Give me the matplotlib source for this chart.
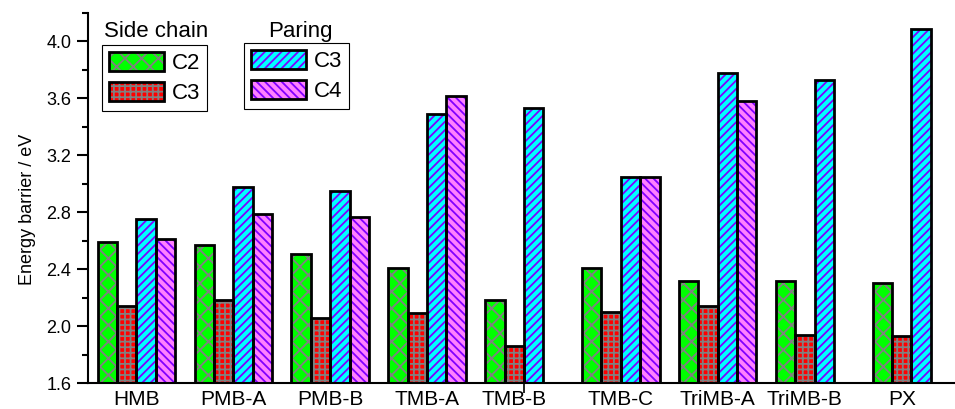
import numpy as np
import matplotlib
matplotlib.use("Agg")
import matplotlib.pyplot as plt
from matplotlib.patches import Patch

plt.rcParams['font.family'] = ['Liberation Sans', 'DejaVu Sans']
plt.rcParams['hatch.linewidth'] = 1.3

categories = ["HMB", "PMB-A", "PMB-B", "TMB-A", "TMB-B", "TMB-C", "TriMB-A", "TriMB-B", "PX"]
side_c2 = [2.59, 2.57, 2.51, 2.41, 2.18, 2.41, 2.32, 2.32, 2.30]
side_c3 = [2.14, 2.18, 2.06, 2.09, 1.86, 2.10, 2.14, 1.94, 1.93]
paring_c3 = [2.75, 2.98, 2.95, 3.49, 3.53, 3.05, 3.78, 3.73, 4.09]
paring_c4 = [2.61, 2.79, 2.77, 3.62, None, 3.05, 3.58, None, None]
yticks = [1.6, 2.0, 2.4, 2.8, 3.2, 3.6, 4.0]

series = [
    ("C2", side_c2, "#00FF00", "#808080", "xx"),
    ("C3", side_c3, "#FF0000", "#808080", "+++"),
    ("C3", paring_c3, "#00FFFF", "#8000FF", "////"),
    ("C4", paring_c4, "#FF80FF", "#8000FF", "\\\\\\\\"),
]

W, H = 955, 409
fig = plt.figure(figsize=(W / 100, H / 100), dpi=100)
ax = fig.add_axes([88 / W, 26 / H, 867 / W, 370 / H])

width = 0.2
offsets = [-0.3, -0.1, 0.1, 0.3]
handles = []
present = {i: [] for i in range(len(categories))}
for k, (name, vals, fc, hc, hatch) in enumerate(series):
    xs, hs = [], []
    for i, v in enumerate(vals):
        if v is None:
            continue
        xs.append(i + offsets[k])
        hs.append(v - 1.6)
        present[i].append(i + offsets[k])
    ax.bar(xs, hs, width, bottom=1.6, color=fc, edgecolor=hc, hatch=hatch,
           linewidth=0, zorder=2)
    ax.bar(xs, hs, width, bottom=1.6, fill=False, edgecolor="black",
           linewidth=2.0, zorder=3)
    p1 = Patch(facecolor=fc, edgecolor=hc, hatch=hatch, linewidth=0)
    p2 = Patch(fill=False, edgecolor="black", linewidth=2.0)
    handles.append((p1, p2))

centers = [np.mean(present[i]) for i in range(len(categories))]
ax.set_xticks(centers)
ax.set_xticklabels(categories, fontsize=15)
ax.tick_params(axis="x", length=0, pad=5)
ax.set_xticks([4], minor=True)
ax.tick_params(axis="x", which="minor", length=7, width=1.2, direction="out")

ax.set_xlim(-0.5, 8.45)
ax.set_ylim(1.6, 4.2)
ax.set_yticks(yticks)
ax.set_yticklabels([f"{v:.1f}" for v in yticks], fontsize=13)
ax.set_yticks(np.arange(1.8, 4.2, 0.4), minor=True)
ax.tick_params(axis="y", which="major", length=8, width=1.5, direction="out", pad=4)
ax.tick_params(axis="y", which="minor", length=4, width=1.5, direction="out")
ax.set_ylabel("Energy barrier / eV", fontsize=13)
ax.yaxis.set_label_coords(-0.06, 0.47)

for s in ["top", "right"]:
    ax.spines[s].set_visible(False)
for s in ["left", "bottom"]:
    ax.spines[s].set_linewidth(1.5)

leg_kw = dict(fontsize=16, handlelength=2.5, handleheight=0.95, handletextpad=0.36,
              labelspacing=0.36, borderpad=0.3, borderaxespad=0, fancybox=False,
              loc="upper left", bbox_transform=fig.transFigure, framealpha=1)
leg1 = ax.legend(handles[:2], ["C2", "C3"], bbox_to_anchor=(102 / W, 1 - 45 / H), **leg_kw)
leg1.get_frame().set_edgecolor("black")
leg1.get_frame().set_linewidth(0.8)
ax.add_artist(leg1)
leg2 = ax.legend(handles[2:], ["C3", "C4"], bbox_to_anchor=(244 / W, 1 - 43 / H), **leg_kw)
leg2.get_frame().set_edgecolor("black")
leg2.get_frame().set_linewidth(0.8)

fig.text(156 / W, 1 - 37 / H, "Side chain", ha="center", va="baseline", fontsize=16)
fig.text(300 / W, 1 - 37 / H, "Paring", ha="center", va="baseline", fontsize=16)

fig.savefig("out.png", dpi=100)
